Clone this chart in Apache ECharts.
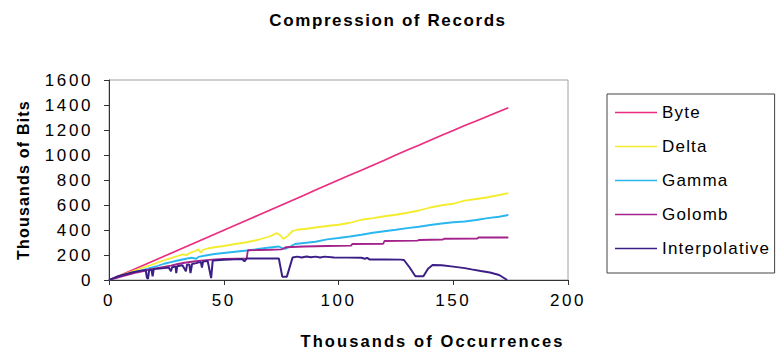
<!DOCTYPE html>
<html><head><meta charset="utf-8">
<script src="https://cdn.jsdelivr.net/npm/echarts@6/dist/echarts.min.js"></script>
<style>
html,body{margin:0;padding:0;background:#fff}
#c{width:776px;height:358px}
#c text{letter-spacing:1.6px}
</style>
</head><body><div id="c"></div>
<script>
// ---- data (x in thousands of occurrences, y in thousands of bits) ----
const seriesNames = ['Byte', 'Delta', 'Gamma', 'Golomb', 'Interpolative'];
const xTicks = [0, 50, 100, 150, 200];
const yTicks = [0, 200, 400, 600, 800, 1000, 1200, 1400, 1600];

const byteData = [[0,0],[5,38],[10,78],[15,118],[20,158],[25,198],[30,238],[35,278],[40,318],[45,358],[50,398],[55,438],[60,478],[65,518],[70,558],[75,598],[80,638],[85,678],[90,720],[95,760],[100,800],[105,840],[110,878],[115,918],[120,958],[125,1000],[130,1040],[135,1078],[140,1118],[145,1158],[150,1196],[155,1236],[160,1272],[165,1310],[170,1348],[174,1378]];

const deltaData = [[0,0],[3,20],[6,42],[9,62],[12,82],[15,100],[18,118],[21,138],[24,158],[27,175],[30,192],[32,205],[34,200],[35,215],[37,228],[39,245],[40,218],[41,242],[43,252],[46,262],[50,272],[55,288],[60,302],[65,322],[70,348],[73,375],[74.5,360],[76,328],[78,355],[80,392],[82,402],[86,410],[90,420],[95,432],[100,442],[105,458],[110,482],[115,495],[120,510],[125,522],[130,538],[135,556],[140,580],[145,598],[150,610],[155,635],[160,648],[165,662],[170,680],[174,695]];

const gammaData = [[0,0],[3,18],[6,35],[9,52],[12,68],[15,82],[18,97],[21,112],[24,130],[27,143],[30,156],[33,168],[36,178],[38,170],[39,185],[42,196],[46,208],[50,216],[55,226],[60,236],[65,248],[70,260],[74,268],[75.5,255],[77,250],[79,268],[81,288],[85,296],[90,306],[95,325],[100,336],[105,348],[110,362],[115,378],[120,390],[125,402],[130,415],[135,426],[140,440],[145,452],[150,462],[155,468],[160,480],[165,495],[170,506],[174,520]];

const golombData = [[0,0],[3,15],[6,30],[9,45],[12,60],[15,72],[18,85],[21,95],[24,105],[27,115],[30,128],[33,138],[36,146],[40,155],[45,163],[50,168],[55,170],[60,172],[60.5,238],[65,240],[70,242],[75,245],[76,250],[77,262],[85,268],[95,272],[105.5,275],[106,288],[119.5,290],[120,312],[134.5,315],[135,320],[145.5,324],[146,330],[160.5,332],[161,340],[174,340]];

const interpData = [[0,0],[2,15],[4,30],[6,40],[8,50],[10,60],[12,68],[14,75],[16,80],[16.5,20],[17,10],[17.5,80],[18.5,85],[19,30],[19.5,88],[22,92],[24,95],[26,100],[27,70],[27.5,102],[29,108],[29.3,55],[29.7,110],[32,118],[33.5,70],[34,122],[35,125],[35.5,55],[36.2,128],[38,135],[40,145],[40.5,100],[41,148],[43,152],[44.5,15],[45.2,155],[47,158],[50,162],[55,165],[58,168],[59,150],[60,172],[62,173],[70,173],[74,173],[75.5,27],[77.5,27],[80,180],[82,187],[84,180],[86,188],[88,182],[90,187],[92,180],[94,187],[98,180],[104,179],[110,178],[111.5,170],[112.5,177],[113.5,165],[120,165],[127,163],[128.5,160],[131,100],[133.5,30],[137,30],[139,90],[141,120],[145,118],[150,107],[155,95],[158,85],[162,72],[166,60],[170,40],[173.5,0]];

const seriesColors = ['#EC2D7F', '#F4EC2E', '#2AB6EE', '#A4228C', '#3B1E86'];
const allData = [byteData, deltaData, gammaData, golombData, interpData];

const FONT = "'Liberation Sans', Arial, Helvetica, sans-serif";
const chart = echarts.init(document.getElementById('c'), null, {renderer: 'svg'});

chart.setOption({
  animation: false,
  backgroundColor: '#fff',
  title: {
    text: 'Compression of Records',
    left: 'center',
    top: 7,
    textStyle: {fontFamily: FONT, fontSize: 17, fontWeight: 'bold', color: '#000'}
  },
  legend: {
    data: seriesNames,
    orient: 'vertical',
    left: 607,
    top: 94,
    icon: 'rect',
    itemWidth: 42,
    itemHeight: 1.6,
    itemGap: 17,
    padding: [10, 20, 16, 8],
    borderColor: '#444',
    borderWidth: 1,
    textStyle: {fontFamily: FONT, fontSize: 17, color: '#000'}
  },
  grid: {
    left: 109, right: 208, top: 80, bottom: 78,
    show: true, borderColor: '#a0a0a0', borderWidth: 1, backgroundColor: 'transparent'
  },
  xAxis: {
    type: 'value',
    min: xTicks[0], max: xTicks[xTicks.length - 1], interval: 50,
    axisLine: {show: true, onZero: false, lineStyle: {color: '#333', width: 1}},
    axisTick: {show: true, length: 5, lineStyle: {color: '#333'}},
    axisLabel: {fontFamily: FONT, fontSize: 17, color: '#000', margin: 12, formatter: v => String(v)},
    splitLine: {show: false},
    name: 'Thousands of Occurrences',
    nameLocation: 'middle',
    nameGap: 52,
    nameTextStyle: {fontFamily: FONT, fontSize: 16.5, fontWeight: 'bold', color: '#000', padding: [0, 0, 0, 188]}
  },
  yAxis: {
    type: 'value',
    min: yTicks[0], max: yTicks[yTicks.length - 1], interval: 200,
    axisLine: {show: true, onZero: false, lineStyle: {color: '#333', width: 1}},
    axisTick: {show: true, length: 5, lineStyle: {color: '#333'}},
    axisLabel: {fontFamily: FONT, fontSize: 17, color: '#000', margin: 16, formatter: v => String(v)},
    splitLine: {show: false},
    name: 'Thousands of Bits',
    nameLocation: 'middle',
    nameRotate: 90,
    nameGap: 78,
    nameTextStyle: {fontFamily: FONT, fontSize: 16, fontWeight: 'bold', color: '#000'}
  },
  series: seriesNames.map((n, i) => ({
    name: n,
    type: 'line',
    data: allData[i],
    symbol: 'none',
    color: seriesColors[i],
    lineStyle: {color: seriesColors[i], width: i === 4 ? 2 : 1.8},
    silent: true
  }))
});

// per-text letter spacing (the reference typesetting is widely spaced)
function spaceText() {
  document.querySelectorAll('#c text').forEach(t => {
    const s = t.textContent;
    let ls = 1.6;
    if (/^\d+$/.test(s)) ls = 2.6;
    else if (s === 'Thousands of Occurrences') ls = 2.1;
    else if (s === 'Thousands of Bits') ls = 1.2;
    else if (s === 'Compression of Records') ls = 1.6;
    else if (seriesNames.indexOf(s) >= 0) ls = 1.2;
    t.style.letterSpacing = ls + 'px';
  });
}
chart.on('finished', spaceText);
setTimeout(spaceText, 50);
setTimeout(spaceText, 300);
</script>
</body></html>
